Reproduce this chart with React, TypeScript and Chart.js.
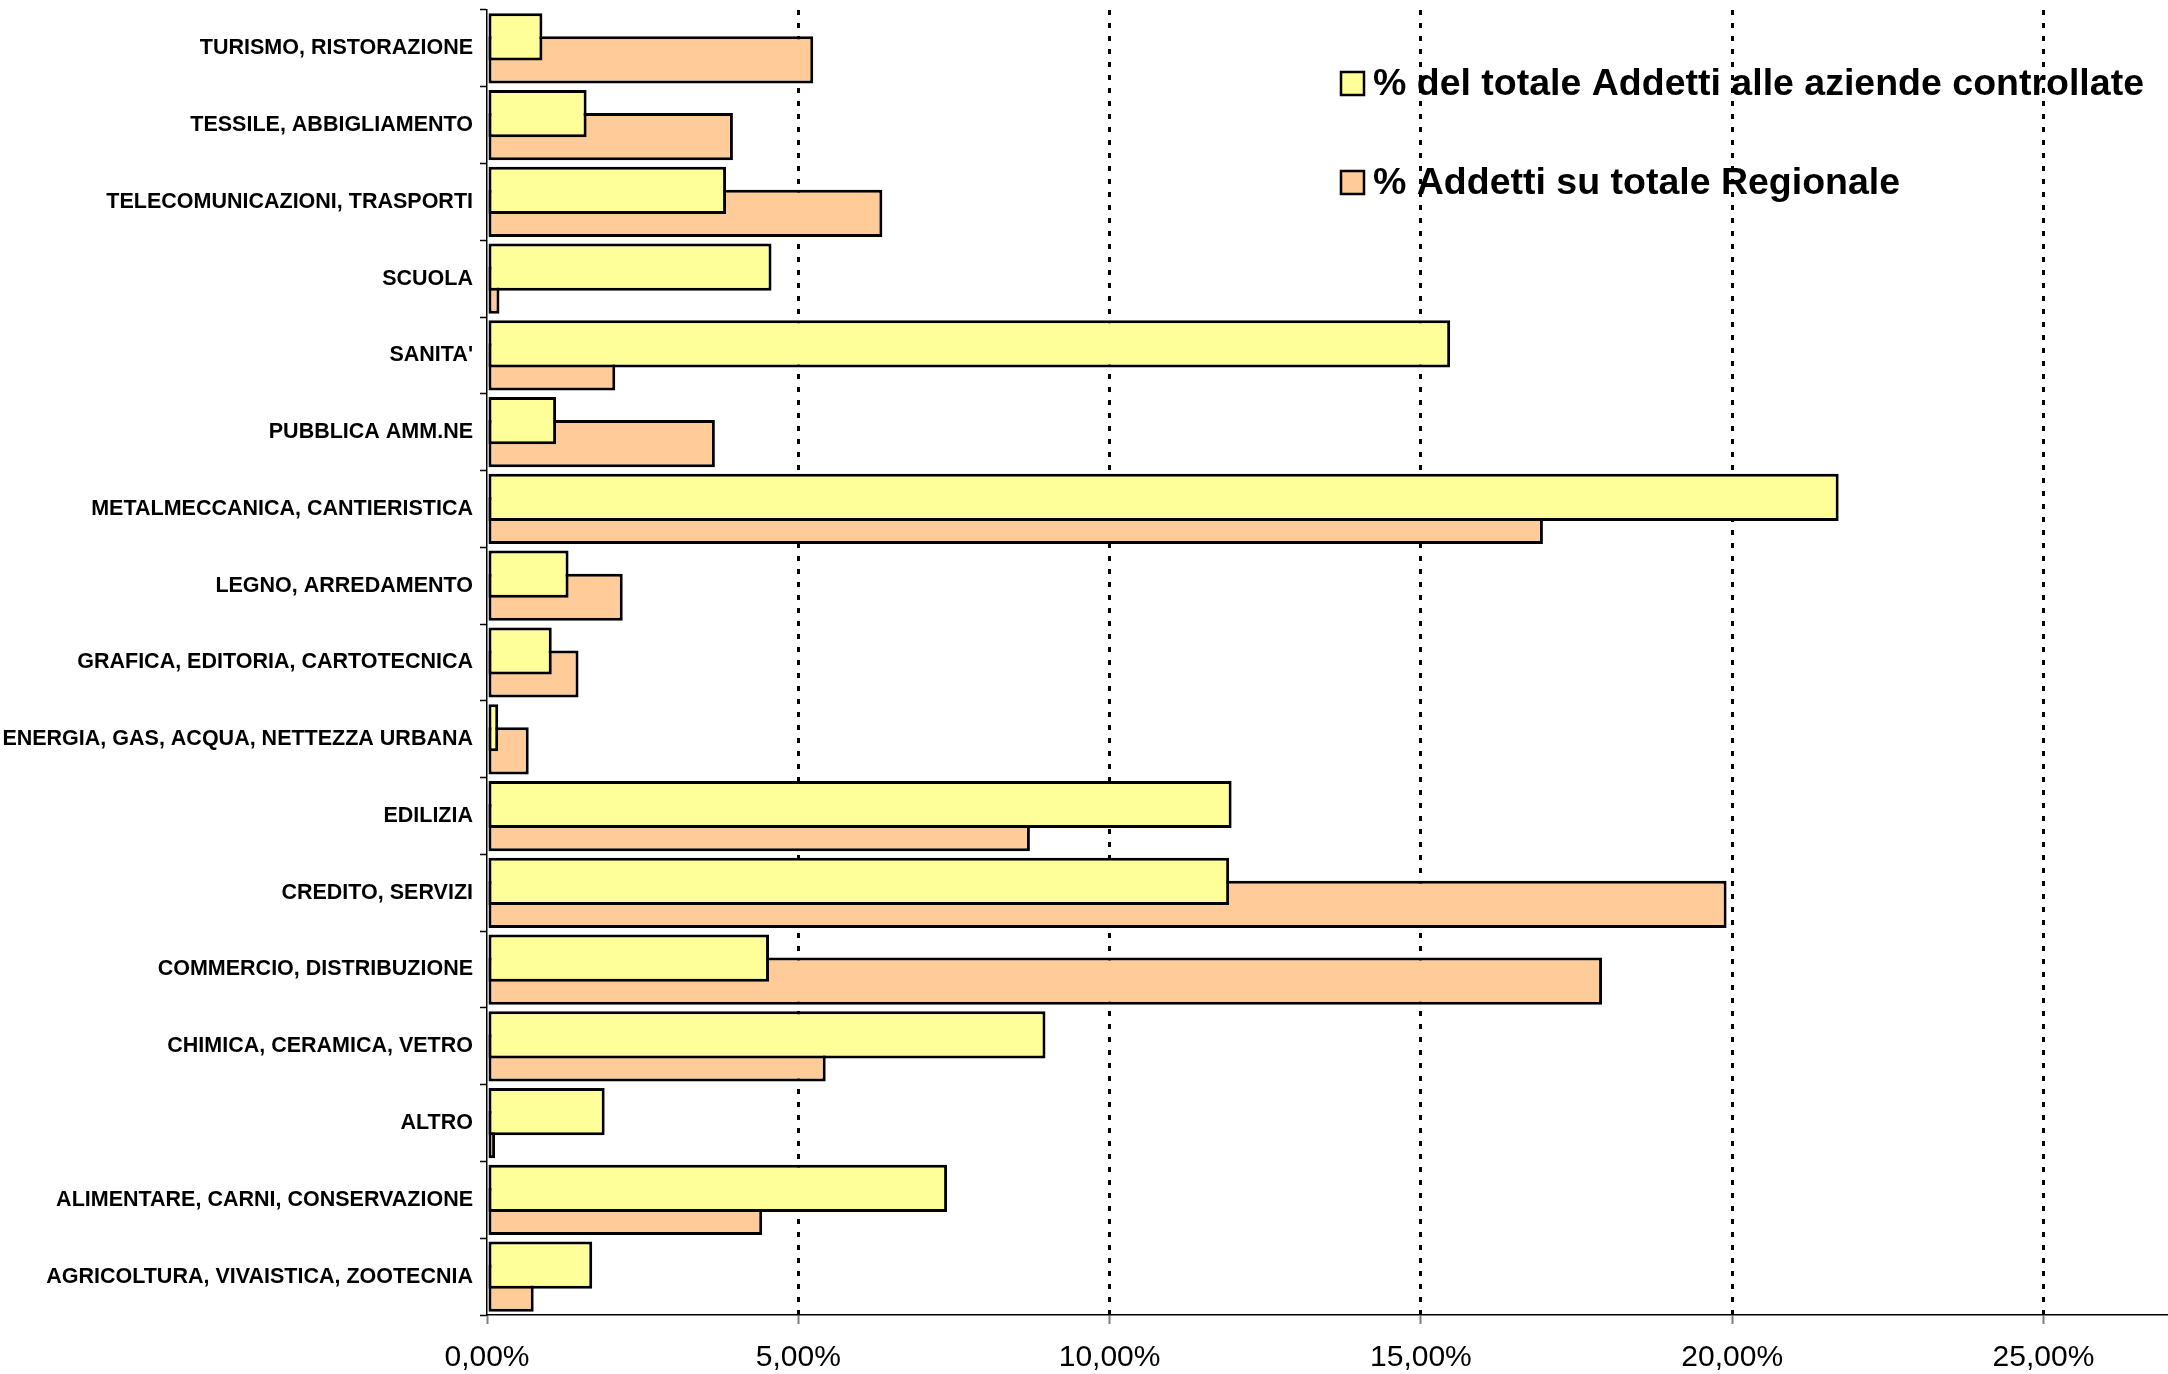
import { useEffect, useRef } from 'react';
import { Chart, registerables } from 'chart.js';

Chart.register(...registerables);

const categories = [
  'TURISMO, RISTORAZIONE',
  'TESSILE, ABBIGLIAMENTO',
  'TELECOMUNICAZIONI, TRASPORTI',
  'SCUOLA',
  "SANITA'",
  'PUBBLICA AMM.NE',
  'METALMECCANICA, CANTIERISTICA',
  'LEGNO, ARREDAMENTO',
  'GRAFICA, EDITORIA, CARTOTECNICA',
  'ENERGIA, GAS, ACQUA, NETTEZZA URBANA',
  'EDILIZIA',
  'CREDITO, SERVIZI',
  'COMMERCIO, DISTRIBUZIONE',
  'CHIMICA, CERAMICA, VETRO',
  'ALTRO',
  'ALIMENTARE, CARNI, CONSERVAZIONE',
  'AGRICOLTURA, VIVAISTICA, ZOOTECNIA',
];

const controlledShare = [
  0.0089, 0.016, 0.0384, 0.0457, 0.1547, 0.0111, 0.2171, 0.0131, 0.0104,
  0.0018, 0.1196, 0.1192, 0.0453, 0.0897, 0.0189, 0.0739, 0.0169,
];

const regionalShare = [
  0.0524, 0.0395, 0.0635, 0.002, 0.0206, 0.0366, 0.1696, 0.0218, 0.0147,
  0.0067, 0.0872, 0.1991, 0.1791, 0.0544, 0.0013, 0.0442, 0.0075,
];

const seriesLabels = [
  '% del totale Addetti alle aziende controllate',
  '% Addetti su totale Regionale',
];

const xMin = 0;
const xMax = 0.27;
const xStep = 0.05;

const FONT = '"Liberation Sans", Arial, Helvetica, sans-serif';

const cornerLegend = {
  id: 'cornerLegend',
  afterDraw(chart: any, _args: any, opts: any) {
    const ctx = chart.ctx as CanvasRenderingContext2D;
    ctx.save();
    ctx.font = `bold ${opts.fontSize}px ${FONT}`;
    ctx.textBaseline = 'alphabetic';
    ctx.textAlign = 'left';
    chart.data.datasets.forEach((ds: any, i: number) => {
      const baseline = opts.baseline + i * opts.rowGap;
      const boxTop = baseline - opts.boxSize;
      ctx.fillStyle = ds.backgroundColor;
      ctx.fillRect(opts.left, boxTop, opts.boxSize, opts.boxSize);
      ctx.strokeStyle = '#000';
      ctx.lineWidth = 2.5;
      ctx.strokeRect(opts.left, boxTop, opts.boxSize, opts.boxSize);
      ctx.fillStyle = '#000';
      ctx.fillText(ds.label, opts.left + opts.boxSize + opts.gap, baseline);
    });
    ctx.restore();
  },
};

export default function App() {
  const canvasRef = useRef<HTMLCanvasElement | null>(null);

  useEffect(() => {
    if (!canvasRef.current) return;
    const chart = new Chart(canvasRef.current, {
      type: 'bar',
      data: {
        labels: categories,
        datasets: [
          {
            label: seriesLabels[0],
            data: controlledShare,
            backgroundColor: '#FFFF99',
            borderColor: '#000000',
            borderWidth: 3,
            borderSkipped: false,
          },
          {
            label: seriesLabels[1],
            data: regionalShare,
            backgroundColor: '#FFCC99',
            borderColor: '#000000',
            borderWidth: 3,
            borderSkipped: false,
          },
        ],
      },
      options: {
        indexAxis: 'y',
        responsive: false,
        animation: false,
        devicePixelRatio: 1,
        categoryPercentage: 0.6,
        barPercentage: 2.05,
        layout: { padding: { top: 10, right: 0, left: 0, bottom: 0 } },
        plugins: {
          legend: { display: false },
          tooltip: { enabled: false },
          cornerLegend: {
            left: 1341,
            baseline: 95,
            rowGap: 99,
            boxSize: 23,
            gap: 9,
            fontSize: 37.5,
          },
        } as any,
        scales: {
          x: {
            type: 'linear',
            min: xMin,
            max: xMax,
            ticks: {
              stepSize: xStep,
              includeBounds: false,
              color: '#000',
              font: { family: FONT, size: 30 },
              padding: 16,
              maxRotation: 0,
              callback: (v: any) => (Number(v) * 100).toFixed(2).replace('.', ',') + '%',
            },
            grid: {
              color: (c: any) => (c.index === 0 ? 'rgba(0,0,0,0)' : '#000'),
              lineWidth: 3,
              tickLength: 9,
              tickColor: '#808080',
              tickWidth: 2,
            },
            border: { display: true, color: '#000', width: 1.5, dash: [5, 8] },
            afterFit: (s: any) => {
              s.height = 59;
              s.paddingLeft = 0;
              s.paddingRight = 0;
            },
          },
          y: {
            type: 'category',
            ticks: {
              color: '#000',
              font: { family: FONT, size: 21.5, weight: 'bold' },
              padding: 7,
              autoSkip: false,
            },
            grid: {
              drawOnChartArea: false,
              tickLength: 7,
              color: '#000',
              tickWidth: 1.5,
              offset: true,
            },
            border: { display: true, color: '#000', width: 1.5 },
            afterFit: (s: any) => {
              s.width = 487;
              s.paddingTop = 0;
              s.paddingBottom = 0;
            },
          },
        },
      } as any,
      plugins: [cornerLegend],
    });
    return () => chart.destroy();
  }, []);

  return (
    <div style={{ position: 'fixed', left: 0, top: 0, width: 2168, height: 1374, background: '#fff' }}>
      <canvas ref={canvasRef} width={2168} height={1374} style={{ width: 2168, height: 1374, display: 'block' }} />
    </div>
  );
}
